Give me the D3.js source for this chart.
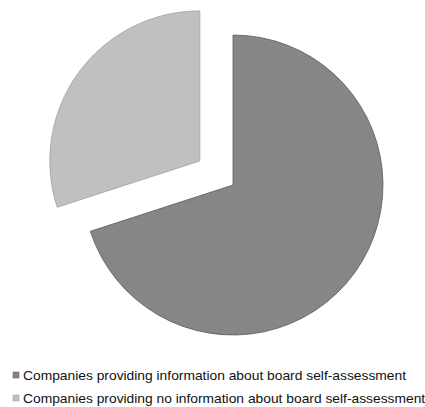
<!DOCTYPE html>
<html><head><meta charset="utf-8">
<script src="https://cdn.jsdelivr.net/npm/d3@7"></script>
<style>body{margin:0;background:#fff}svg{display:block}</style>
</head><body>
<svg id="c" width="425" height="407"></svg>
<script>
const categories = ["Companies providing information about board self-assessment",
                    "Companies providing no information about board self-assessment"];
const values = [70, 30];
const colors = ["#868686", "#c0c0c0"];
const explode = [0, 41];

const svg = d3.select("#c");
const cx = 233, cy = 185, r = 150;
const pie = d3.pie().sort(null).value(d => d)(values);
const arc = d3.arc().innerRadius(0).outerRadius(r);
const g = svg.append("g").attr("transform", `translate(${cx},${cy})`);
g.selectAll("path").data(pie).enter().append("path")
  .attr("d", arc)
  .attr("fill", (d,i) => colors[i])
  .attr("stroke", (d,i) => i === 0 ? "#5a5a5a" : "#a0a0a0")
  .attr("stroke-width", 0.8)
  .attr("transform", (d,i) => {
    const a = (d.startAngle + d.endAngle) / 2;
    return `translate(${Math.sin(a)*explode[i]},${-Math.cos(a)*explode[i]})`;
  });

const leg = svg.append("g");
const texts = [];
categories.forEach((c, i) => {
  const y = 380 + i * 23;
  leg.append("rect").attr("x", 13).attr("y", y - 8).attr("width", 6).attr("height", 6)
    .attr("fill", colors[i]).attr("stroke", i === 0 ? "#555" : "#999").attr("stroke-width", 0.5);
  texts.push(leg.append("text").attr("x", 23).attr("y", y)
    .attr("font-family", "Liberation Sans, Arial, sans-serif").attr("font-size", 12.8)
    .attr("fill", "#111").text(c));
});
const w0 = texts[0].node().getComputedTextLength();
const k = 383 / w0;
texts.forEach(t => {
  const w = t.node().getComputedTextLength();
  t.attr("textLength", w * k).attr("lengthAdjust", "spacingAndGlyphs");
});
</script>
</body></html>
